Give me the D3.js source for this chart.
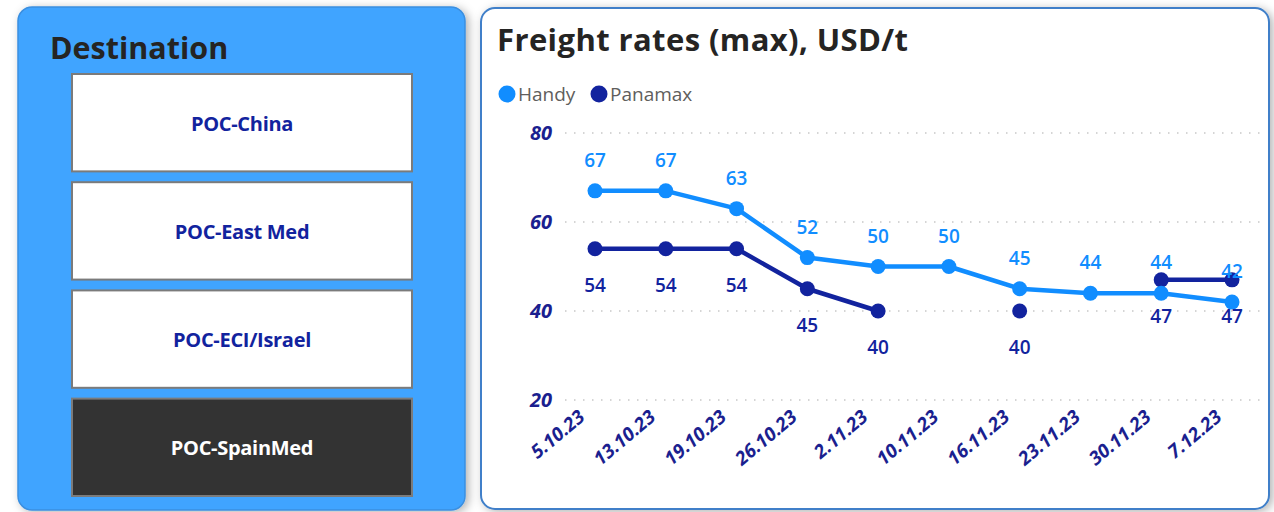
<!DOCTYPE html>
<html>
<head>
<meta charset="utf-8">
<script src="https://cdn.jsdelivr.net/npm/d3@7"></script>
<style>
  body { margin: 0; background: #fff; font-family: "Open Sans", "Noto Sans", sans-serif; }
  svg { display: block; }
</style>
</head>
<body>
<div id="Report"></div>
<script>
const destinations = ["POC-China", "POC-East Med", "POC-ECI/Israel", "POC-SpainMed"];
const selected = "POC-SpainMed";
const dates = ["5.10.23", "13.10.23", "19.10.23", "26.10.23", "2.11.23", "10.11.23", "16.11.23", "23.11.23", "30.11.23", "7.12.23"];
const handy   = [67, 67, 63, 52, 50, 50, 45, 44, 44, 42];
const panamax = [54, 54, 54, 45, 40, null, 40, null, 47, 47];
const yTicks = [20, 40, 60, 80];

const col = {handy: "#118DFF", panamax: "#12239E", navy: "#1b1f8f", text: "#252423"};

const svg = d3.select("#Report").append("svg")
  .attr("width", 1274).attr("height", 512);

const defs = svg.append("defs");
const shadow = defs.append("filter").attr("id", "shadow")
  .attr("x", "-5%").attr("y", "-5%").attr("width", "115%").attr("height", "115%");
shadow.append("feDropShadow")
  .attr("dx", 3).attr("dy", 2).attr("stdDeviation", 5)
  .attr("flood-color", "#000").attr("flood-opacity", 0.3);

// left slicer panel
const slicer = svg.append("g").attr("class", "slicer");
slicer.append("rect")
  .attr("x", 18).attr("y", 7).attr("width", 447).attr("height", 503)
  .attr("rx", 14)
  .attr("fill", "#41A4FF").attr("stroke", "#3a8fe0").attr("stroke-width", 1.5)
  .attr("filter", "url(#shadow)");
slicer.append("text")
  .attr("x", 50).attr("y", 59)
  .attr("font-size", 30.5).attr("font-weight", 700).attr("fill", col.text)
  .text("Destination");

const btn = d3.scaleBand().domain(destinations).range([74, 496]).paddingInner(0.1);
const buttons = slicer.selectAll("g.btn").data(destinations).join("g").attr("class", "btn");
buttons.append("rect")
  .attr("x", 72).attr("width", 340)
  .attr("y", d => btn(d)).attr("height", btn.bandwidth())
  .attr("fill", d => d === selected ? "#333333" : "#fff")
  .attr("stroke", "#7b7b7b").attr("stroke-width", 2);
buttons.append("text")
  .attr("x", 242).attr("y", d => btn(d) + btn.bandwidth() / 2 + 8)
  .attr("text-anchor", "middle")
  .attr("font-size", 20).attr("font-weight", 700)
  .attr("letter-spacing", -0.3)
  .attr("fill", d => d === selected ? "#fff" : col.panamax)
  .text(d => d);

// right chart panel
const panel = svg.append("g").attr("class", "panel");
panel.append("rect")
  .attr("x", 481).attr("y", 8).attr("width", 788).attr("height", 501)
  .attr("rx", 14)
  .attr("fill", "#fff").attr("stroke", "#3f7fc9").attr("stroke-width", 2)
  .attr("filter", "url(#shadow)");
panel.append("text")
  .attr("x", 497).attr("y", 51)
  .attr("font-size", 31).attr("font-weight", 700).attr("fill", col.text)
  .attr("letter-spacing", 0.4)
  .text("Freight rates (max), USD/t");

const legend = panel.selectAll("g.legend")
  .data([{name: "Handy", c: col.handy, x: 507}, {name: "Panamax", c: col.panamax, x: 599}])
  .join("g").attr("class", "legend")
  .attr("transform", d => `translate(${d.x} 94)`);
legend.append("circle").attr("r", 8.5).attr("fill", d => d.c);
legend.append("text").attr("x", 11).attr("y", 7)
  .attr("font-size", 19).attr("fill", "#605E5C").text(d => d.name);

const scale = {
  x: d3.scalePoint(dates, [595, 1232]),
  y: d3.scaleLinear([20, 80], [400, 133])
};

const chart = panel.append("g").attr("class", "chart");
chart.selectAll("line.grid").data(yTicks).join("line")
  .attr("class", "grid")
  .attr("x1", 565).attr("x2", 1262)
  .attr("y1", d => scale.y(d)).attr("y2", d => scale.y(d))
  .attr("stroke", "#c8c8c8").attr("stroke-width", 1.5)
  .attr("stroke-dasharray", "1.5 7.5");
chart.selectAll("text.ytick").data(yTicks).join("text")
  .attr("class", "ytick")
  .attr("x", 552).attr("y", d => scale.y(d) + 7)
  .attr("text-anchor", "end")
  .attr("font-size", 20).attr("font-weight", 700).attr("font-style", "italic")
  .attr("fill", col.navy)
  .text(d => d);
chart.selectAll("text.xtick").data(dates).join("text")
  .attr("class", "xtick")
  .attr("text-anchor", "end")
  .attr("transform", d => `translate(${scale.x(d) - 9} 419) rotate(-40)`)
  .attr("font-size", 19).attr("font-weight", 700).attr("font-style", "italic")
  .attr("fill", col.navy)
  .text(d => d);

const series = [
  {name: "Panamax", values: panamax, c: col.panamax, dy: 43},
  {name: "Handy", values: handy, c: col.handy, dy: -24}
];
const line = d3.line()
  .defined(d => d.v !== null)
  .x(d => scale.x(d.date))
  .y(d => scale.y(d.v));

for (const s of series) {
  const pts = dates.map((date, i) => ({date, v: s.values[i]}));
  const g = chart.append("g").attr("class", "series " + s.name);
  g.append("path")
    .attr("fill", "none").attr("stroke", s.c).attr("stroke-width", 4.5)
    .attr("stroke-linejoin", "round")
    .attr("d", line(pts));
  const valid = pts.filter(d => d.v !== null);
  g.selectAll("circle").data(valid).join("circle")
    .attr("cx", d => scale.x(d.date)).attr("cy", d => scale.y(d.v))
    .attr("r", 7.5).attr("fill", s.c);
  s.labels = valid;
}
for (const s of series) {
  chart.append("g").attr("class", "labels " + s.name)
    .selectAll("text").data(s.labels).join("text")
      .attr("x", d => scale.x(d.date)).attr("y", d => scale.y(d.v) + s.dy)
      .attr("text-anchor", "middle")
      .attr("font-size", 19).attr("font-weight", 600)
      .attr("fill", s.c)
      .text(d => d.v);
}
</script>
</body>
</html>
